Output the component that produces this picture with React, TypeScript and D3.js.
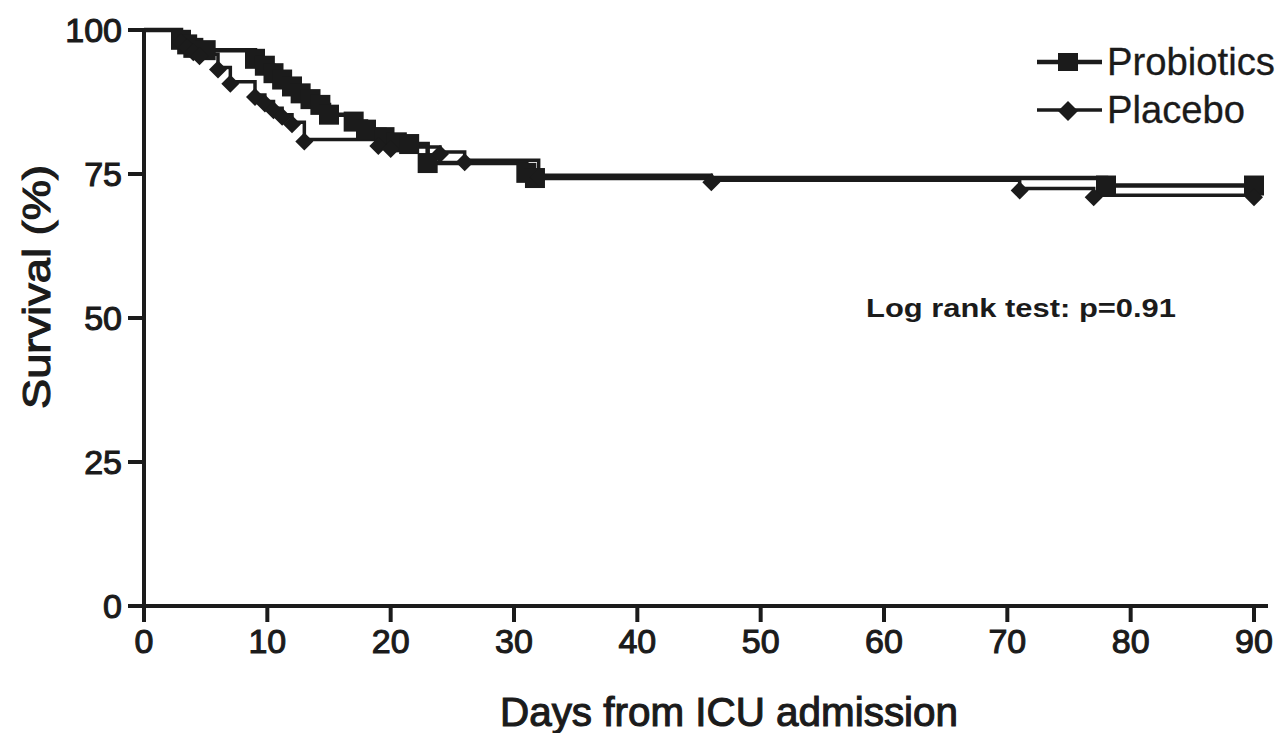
import React from "react";
import * as d3 from "d3";

// ---- data ----
const xTicks = [0, 10, 20, 30, 40, 50, 60, 70, 80, 90];
const yTicks = [0, 25, 50, 75, 100];

const probTimes = [3, 3.5, 4, 5, 9, 9.8, 10.5, 11.2, 12, 12.7, 13.5, 14.3, 15, 17, 18, 19.5, 20.5, 21.5, 23, 31, 31.7, 78];
const probSurv = [98.3, 97.5, 96.9, 96.5, 95, 93.8, 92.5, 91.4, 90.2, 89, 88, 87, 85.3, 84.1, 82.7, 81.4, 80.5, 80.2, 76.9, 75.2, 74.3, 73.0];

const placTimes = [3, 3.5, 4, 4.5, 6, 7, 9, 9.8, 10.5, 11.2, 12, 13, 19, 20, 24, 26, 32, 46, 71, 77];
const placSurv = [98.2, 97.3, 96.5, 95.8, 93.5, 91, 88.7, 87.6, 86.4, 85.3, 84, 81, 80.2, 79.7, 78.8, 77.4, 74.8, 73.9, 72.5, 71.3];

const endDay = 90;
const seriesNames = ["Probiotics", "Placebo"];
const xTitle = "Days from ICU admission";
const yTitle = "Survival (%)";
const annotation = "Log rank test: p=0.91";

const INK = "#1b1b1b";
const FONT = "'Liberation Sans', Arial, Helvetica, sans-serif";

function buildPts(times: number[], surv: number[]) {
  const pts: [number, number][] = [[0, 100]];
  times.forEach((t, i) => pts.push([t, surv[i]]));
  pts.push([endDay, surv[surv.length - 1]]);
  return pts;
}

export default function App() {
  const W = 1281, H = 733;
  const x = d3.scaleLinear().domain([0, 90]).range([144, 1254]);
  const y = d3.scaleLinear().domain([0, 100]).range([606, 30]);

  const line = d3.line<[number, number]>()
    .x(d => x(d[0]))
    .y(d => y(d[1]))
    .curve(d3.curveStepAfter);

  const probPts = buildPts(probTimes, probSurv);
  const placPts = buildPts(placTimes, placSurv);
  const probMarks = probPts.slice(1);
  const placMarks = placPts.slice(1);

  const sq = 20;
  const dia = (cx: number, cy: number, r: number) =>
    `M${cx},${cy - r}L${cx + r},${cy}L${cx},${cy + r}L${cx - r},${cy}Z`;

  const sw = 1.1;

  return (
    <svg width={W} height={H} style={{ position: "absolute", left: 0, top: 0, background: "#fff" }}
      fontFamily={FONT}>
      <rect x={0} y={0} width={W} height={H} fill="#fff" />
      {/* axes */}
      <line x1={x(0)} x2={x(0)} y1={y(100)} y2={y(0) + 16} stroke={INK} strokeWidth={4} />
      <line x1={x(0) - 16} x2={x(90) + 14} y1={y(0)} y2={y(0)} stroke={INK} strokeWidth={4} />
      {yTicks.map(t => (
        <g key={"y" + t}>
          <line x1={x(0) - 16} x2={x(0)} y1={y(t)} y2={y(t)} stroke={INK} strokeWidth={4} />
          <text x={122} y={y(t)} dy="0.36em" textAnchor="end" fontSize={34} fill={INK}
            stroke={INK} strokeWidth={sw}>{t}</text>
        </g>
      ))}
      {xTicks.map(t => (
        <g key={"x" + t}>
          <line x1={x(t)} x2={x(t)} y1={y(0)} y2={y(0) + 16} stroke={INK} strokeWidth={4} />
          <text x={x(t)} y={653} textAnchor="middle" fontSize={34} fill={INK}
            stroke={INK} strokeWidth={sw}>{t}</text>
        </g>
      ))}
      <text x={729} y={726} textAnchor="middle" fontSize={40} fill={INK} stroke={INK} strokeWidth={sw}
        textLength={458} lengthAdjust="spacingAndGlyphs">{xTitle}</text>
      <text transform={`translate(50,287) rotate(-90)`} textAnchor="middle" fontSize={38} fill={INK}
        stroke={INK} strokeWidth={sw} textLength={244} lengthAdjust="spacingAndGlyphs">{yTitle}</text>

      {/* curves */}
      <path d={line(placPts) || ""} fill="none" stroke={INK} strokeWidth={3.5} />
      <path d={line(probPts) || ""} fill="none" stroke={INK} strokeWidth={4.5} />
      {probMarks.map((p, i) => (
        <rect key={"pm" + i} x={x(p[0]) - sq / 2} y={y(p[1]) - sq / 2} width={sq} height={sq} fill={INK} />
      ))}
      {placMarks.map((p, i) => (
        <path key={"dm" + i} d={dia(x(p[0]), y(p[1]) + 2, 9)} fill={INK} />
      ))}

      {/* legend */}
      <line x1={1037} x2={1102} y1={62} y2={62} stroke={INK} strokeWidth={4.5} />
      <rect x={1068 - 10} y={62 - 9} width={20} height={18} fill={INK} />
      <text x={1107} y={75} fontSize={38} fill={INK} stroke={INK} strokeWidth={0.3}
        textLength={168} lengthAdjust="spacingAndGlyphs">{seriesNames[0]}</text>
      <line x1={1037} x2={1102} y1={110} y2={110} stroke={INK} strokeWidth={3.5} />
      <path d={dia(1068, 111, 10)} fill={INK} />
      <text x={1107} y={123} fontSize={38} fill={INK} stroke={INK} strokeWidth={0.3}
        textLength={138} lengthAdjust="spacingAndGlyphs">{seriesNames[1]}</text>

      {/* annotation */}
      <text x={866} y={317} fontSize={25} fontWeight="bold" fill={INK} textLength={310}
        lengthAdjust="spacingAndGlyphs">{annotation}</text>
    </svg>
  );
}
